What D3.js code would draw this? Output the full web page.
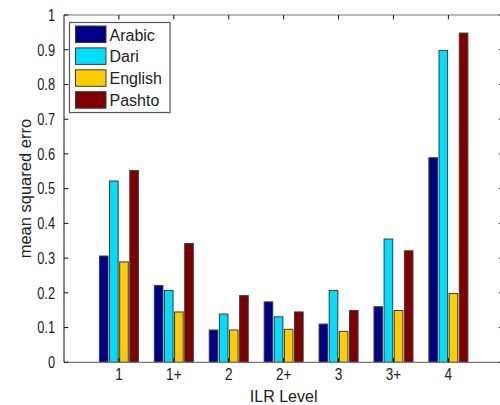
<!DOCTYPE html>
<html>
<head>
<meta charset="utf-8">
<script src="https://cdn.jsdelivr.net/npm/d3@7"></script>
<style>
  html, body { margin: 0; padding: 0; background: #fff; }
  svg { display: block; }
  text { font-family: "Liberation Sans", Arial, Helvetica, sans-serif; fill: #222; }
</style>
</head>
<body>
<svg id="chart" width="500" height="405"></svg>
<script>
const categories = ["1", "1+", "2", "2+", "3", "3+", "4"];
const seriesNames = ["Arabic", "Dari", "English", "Pashto"];
const seriesColors = ["#000088", "#00DDFF", "#FFCC00", "#800000"];
const arabic  = [0.306, 0.221, 0.093, 0.174, 0.110, 0.160, 0.589];
const dari    = [0.522, 0.207, 0.139, 0.131, 0.207, 0.355, 0.898];
const english = [0.289, 0.145, 0.093, 0.095, 0.089, 0.149, 0.198];
const pashto  = [0.552, 0.342, 0.192, 0.145, 0.149, 0.321, 0.948];
const yTicks = [0, 0.1, 0.2, 0.3, 0.4, 0.5, 0.6, 0.7, 0.8, 0.9, 1];
const yTickLabels = ["0", "0.1", "0.2", "0.3", "0.4", "0.5", "0.6", "0.7", "0.8", "0.9", "1"];
const xLabel = "ILR Level";
const yLabel = "mean squared erro";

const seriesValues = [arabic, dari, english, pashto];

const svg = d3.select("#chart");
const pLeft = 64, pRight = 503.3, pTop = 15, pBottom = 362.3;

const x = d3.scaleLinear().domain([0, 8]).range([pLeft, pRight]);
const y = d3.scaleLinear().domain([0, 1]).range([pBottom, pTop]);
const inner = d3.scaleBand().domain(seriesNames).range([-0.355, 0.355]).paddingInner(0.15);

// bars
const groups = svg.append("g");
categories.forEach((c, i) => {
  seriesNames.forEach((s, j) => {
    const v = seriesValues[j][i];
    const x0 = x(i + 1 + inner(s));
    const x1 = x(i + 1 + inner(s) + inner.bandwidth());
    groups.append("rect")
      .attr("x", x0).attr("y", y(v))
      .attr("width", x1 - x0).attr("height", y(0) - y(v))
      .attr("fill", seriesColors[j])
      .attr("stroke", "#3a3a3a").attr("stroke-width", 1);
  });
});

// axes box
const tickLen = 4.4;
svg.append("line").attr("x1", pLeft).attr("x2", pRight).attr("y1", pTop).attr("y2", pTop)
  .attr("stroke", "#777").attr("stroke-width", 1.2);
svg.append("line").attr("x1", pLeft).attr("x2", pRight).attr("y1", pBottom).attr("y2", pBottom)
  .attr("stroke", "#777").attr("stroke-width", 1.2);
svg.append("line").attr("x1", pLeft).attr("x2", pLeft).attr("y1", pTop).attr("y2", pBottom)
  .attr("stroke", "#111").attr("stroke-width", 1);
svg.append("line").attr("x1", pRight).attr("x2", pRight).attr("y1", pTop).attr("y2", pBottom)
  .attr("stroke", "#111").attr("stroke-width", 1);

// y ticks (left and right, inward)
yTicks.forEach((t, i) => {
  svg.append("line").attr("x1", pLeft).attr("x2", pLeft + tickLen)
    .attr("y1", y(t)).attr("y2", y(t)).attr("stroke", "#111");
  svg.append("line").attr("x1", pRight - tickLen).attr("x2", pRight)
    .attr("y1", y(t)).attr("y2", y(t)).attr("stroke", "#111");
  svg.append("text")
    .attr("transform", `translate(${pLeft - 9},${y(t) + 5.8}) scale(0.8,1)`)
    .attr("text-anchor", "end")
    .attr("font-size", 16)
    .text(yTickLabels[i]);
});

// x ticks (top and bottom, inward)
categories.forEach((c, i) => {
  const xx = x(i + 1);
  svg.append("line").attr("x1", xx).attr("x2", xx).attr("y1", pTop).attr("y2", pTop + tickLen).attr("stroke", "#111");
  svg.append("line").attr("x1", xx).attr("x2", xx).attr("y1", pBottom).attr("y2", pBottom - tickLen).attr("stroke", "#111");
  svg.append("text")
    .attr("transform", `translate(${xx},${pBottom + 18}) scale(0.85,1)`)
    .attr("text-anchor", "middle")
    .attr("font-size", 16)
    .text(c);
});

// axis labels
svg.append("text")
  .attr("x", (pLeft + pRight) / 2).attr("y", 401.5)
  .attr("text-anchor", "middle").attr("font-size", 16)
  .text(xLabel);
svg.append("text")
  .attr("transform", `translate(31,${(pTop + pBottom) / 2}) rotate(-90)`)
  .attr("text-anchor", "middle").attr("font-size", 16.5)
  .text(yLabel);

// legend
const lg = svg.append("g");
lg.append("rect").attr("x", 69.5).attr("y", 22.5).attr("width", 100.5).attr("height", 90)
  .attr("fill", "#fff").attr("stroke", "#555").attr("stroke-width", 1.2);
seriesNames.forEach((s, j) => {
  const yy = 26 + j * 21.9;
  lg.append("rect").attr("x", 75.5).attr("y", yy).attr("width", 30.5).attr("height", 16.5)
    .attr("fill", seriesColors[j]).attr("stroke", "#3a3a3a").attr("stroke-width", 1);
  lg.append("text").attr("x", 109.5).attr("y", yy + 14.5)
    .attr("font-size", 16).text(s);
});
</script>
</body>
</html>
